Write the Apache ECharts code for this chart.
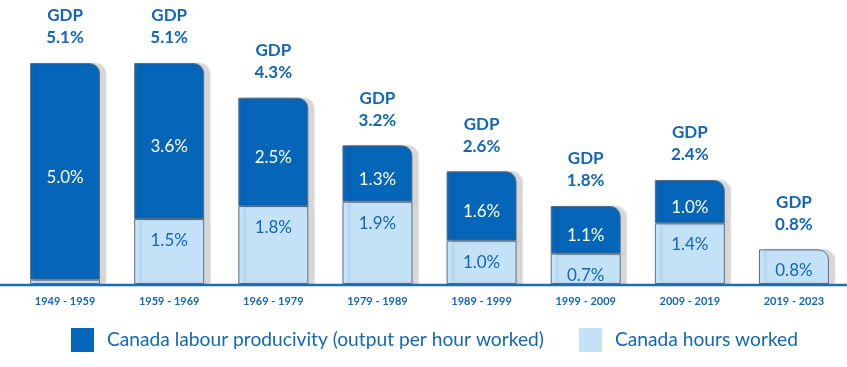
<!DOCTYPE html>
<html>
<head>
<meta charset="utf-8">
<script src="https://cdn.jsdelivr.net/npm/echarts@6/dist/echarts.min.js"></script>
<style>
html,body{margin:0;padding:0;background:#fff;}
#chart{width:847px;height:367px;}
</style>
</head>
<body>
<div id="chart"></div>
<script>
const categories = ['1949 - 1959', '1959 - 1969', '1969 - 1979', '1979 - 1989', '1989 - 1999', '1999 - 2009', '2009 - 2019', '2019 - 2023'];
const hoursWorked = [0.1, 1.5, 1.8, 1.9, 1.0, 0.7, 1.4, 0.8];
const productivity = [5.0, 3.6, 2.5, 1.3, 1.6, 1.1, 1.0, 0];
const gdp = [5.1, 5.1, 4.3, 3.2, 2.6, 1.8, 2.4, 0.8];
const seriesNames = ['Canada labour producivity (output per hour worked)', 'Canada hours worked'];

const DARK = '#0565b9';
const LIGHT = '#c3e1f7';
const TEXT = '#1466b6';
const FONT = 'Lato';

const chart = echarts.init(document.getElementById('chart'));

const barStyle = {
  borderColor: '#5c6f82',
  borderWidth: 1,
  shadowColor: 'rgba(0,0,0,0.16)',
  shadowBlur: 2,
  shadowOffsetX: 6,
  shadowOffsetY: 0
};

const lightData = hoursWorked.map((v, i) => ({
  value: v,
  itemStyle: { borderRadius: productivity[i] > 0 ? 0 : [0, 10, 0, 0] },
  label: { show: v >= 0.3 }
}));
const darkData = productivity.map((v, i) => ({
  value: v,
  itemStyle: v > 0 ? { borderRadius: [0, 10, 0, 0] } : { borderWidth: 0, shadowBlur: 0, shadowOffsetX: 0, shadowColor: 'transparent' },
  label: { show: v > 0 }
}));
const gdpData = gdp.map(() => 0);

chart.setOption({
  animation: false,
  textStyle: { fontFamily: FONT },
  grid: { left: 13, right: 1, top: 24, bottom: 83 },
  legend: {
    data: seriesNames,
    left: 71,
    top: 328,
    padding: 0,
    itemWidth: 23,
    itemHeight: 24,
    itemGap: 35,
    icon: 'rect',
    selectedMode: false,
    itemStyle: { shadowBlur: 0, shadowOffsetX: 0, shadowColor: 'transparent', borderWidth: 0 },
    textStyle: { fontFamily: FONT, fontSize: 19.2, color: TEXT, padding: [0, 0, 0, 8] }
  },
  xAxis: {
    type: 'category',
    data: categories,
    axisLine: { show: false },
    axisTick: { show: false },
    axisLabel: { fontFamily: FONT, fontSize: 11, fontWeight: 'bold', color: TEXT, margin: 12 }
  },
  yAxis: {
    type: 'value',
    min: 0,
    max: 6,
    show: false,
    splitLine: { show: false }
  },
  series: [
    {
      name: seriesNames[1],
      type: 'bar',
      stack: 'total',
      barWidth: 70,
      data: lightData,
      itemStyle: Object.assign({ color: LIGHT }, barStyle),
      label: {
        show: true,
        position: 'insideTop',
        distance: 13,
        fontFamily: FONT,
        fontSize: 17,
        color: TEXT,
        formatter: p => p.value.toFixed(1) + '%'
      }
    },
    {
      name: seriesNames[0],
      type: 'bar',
      stack: 'total',
      barWidth: 70,
      data: darkData,
      itemStyle: Object.assign({ color: DARK }, barStyle),
      label: {
        show: true,
        position: 'inside',
        offset: [0, 6],
        fontFamily: FONT,
        fontSize: 17,
        color: '#ffffff',
        formatter: p => p.value.toFixed(1) + '%'
      }
    },
    {
      name: 'GDP',
      type: 'bar',
      stack: 'total',
      barWidth: 70,
      data: gdpData,
      itemStyle: { color: 'transparent', borderWidth: 0 },
      label: {
        show: true,
        position: 'top',
        distance: 14,
        fontFamily: FONT,
        fontSize: 17,
        fontWeight: 'bold',
        lineHeight: 22,
        color: TEXT,
        formatter: p => 'GDP\n' + gdp[p.dataIndex].toFixed(1) + '%'
      }
    }
  ]
});

const y0 = chart.convertToPixel({ yAxisIndex: 0 }, 0);
chart.setOption({
  graphic: [{
    type: 'line',
    z: 100,
    shape: { x1: 0, y1: y0 + 1, x2: 847, y2: y0 + 1 },
    style: { stroke: '#1a6cb9', lineWidth: 2.5 }
  }]
});
</script>
</body>
</html>
